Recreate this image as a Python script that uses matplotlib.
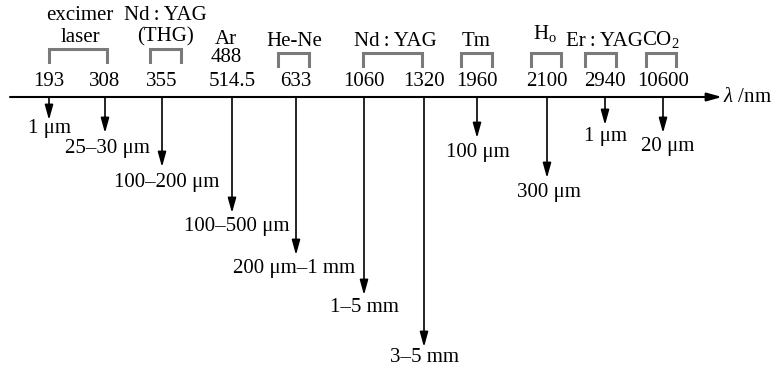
### Imports
import numpy as np
import matplotlib
matplotlib.use('Agg')
from matplotlib import pyplot as plt

plt.rcParams['font.family'] = ['Liberation Serif', 'DejaVu Serif']
plt.rcParams['mathtext.fontset'] = 'custom'
plt.rcParams['mathtext.rm'] = 'Liberation Serif'
plt.rcParams['mathtext.it'] = 'Liberation Serif:italic'

# ----------------------------------------------------------------------------

# Laser wavelengths (nm) and the penetration depth of each
wavelengths = ['193', '308', '355', '514.5', '633', '1060', '1320',
               '1960', '2100', '2940', '10600']
depths = ['1 μm', '25–30 μm', '100–200 μm', '100–500 μm', '200 μm–1 mm',
          '1–5 mm', '3–5 mm', '100 μm', '300 μm', '1 μm', '20 μm']

# Laser names (one or two lines each)
lasers = [['excimer', 'laser'], ['Nd\u2009:\u2009YAG', '(THG)'], ['Ar', '488'],
          ['He-Ne'], ['Nd\u2009:\u2009YAG'], ['Tm'], [r'H$_\mathrm{o}$'],
          ['Er\u2009:\u2009YAG'], [r'CO$_\mathrm{2}$']]

# Layout (pixel space of the figure)
x_wl = [49, 105, 162, 232, 296, 364, 424, 477, 547, 605, 663]
y_tip = [120, 133, 167, 213, 255, 295, 347, 138, 178, 125, 133]
x_lab = [49, 107, 167, 237, 294, 364, 425, 478, 549, 606, 668]
y_lab = [128, 148, 182, 227, 268, 308, 358, 152, 192, 136, 147]
y_axis = 97

br_left = [49, 150, None, 278, 363, 461, 531, 585, 646]
br_right = [107, 181, None, 309, 422, 492, 561, 616, 676]
br_top = [49, 49, None, 53, 53, 53, 53, 53, 53]
name_x = [80, 165, 226, 294, 395, 476, 545, 604, 661]
name_y = [15, 15, 39, 42, 42, 42, 34, 42, 40]
name_dy = [22, 22, 19, 0, 0, 0, 0, 0, 0]

fig = plt.figure(figsize=(7.8, 3.72), dpi=100)
ax = fig.add_axes([0, 0, 1, 1])
ax.set_xlim(0, 780)
ax.set_ylim(372, 0)
ax.axis('off')

fs = 15

# Wavelength axis
ax.annotate('', xy=(722, y_axis), xytext=(10, y_axis),
            arrowprops=dict(arrowstyle='-|>,head_length=0.9,head_width=0.25',
                            color='black', lw=1.5, shrinkA=0, shrinkB=0,
                            mutation_scale=10))
ax.text(723, y_axis, r'$\lambda$ /nm', fontsize=fs, va='center', ha='left')

# Wavelength labels and depth arrows
for i in range(len(wavelengths)):
    ax.text(x_wl[i], 81, wavelengths[i], fontsize=fs, ha='center', va='center')
    ax.annotate('', xy=(x_wl[i], y_tip[i]), xytext=(x_wl[i], y_axis),
                arrowprops=dict(arrowstyle='-|>,head_length=0.9,head_width=0.25',
                                color='black', lw=1.2, shrinkA=0, shrinkB=0,
                                mutation_scale=10))
    ax.text(x_lab[i], y_lab[i], depths[i], fontsize=fs, ha='center', va='center')
###i

# Laser names with brackets
for k, lines in enumerate(lasers):
    for j, line in enumerate(lines):
        ax.text(name_x[k], name_y[k] + j * name_dy[k], line, fontsize=fs,
                ha='center', va='center')
    if br_left[k] is None:
        continue
    ax.plot([br_left[k], br_left[k], br_right[k], br_right[k]],
            [br_top[k] + 13, br_top[k], br_top[k], br_top[k] + 13],
            color='#7a7a7a', lw=2.2, solid_joinstyle='miter')
###k

plt.savefig('out.png', dpi=100)
